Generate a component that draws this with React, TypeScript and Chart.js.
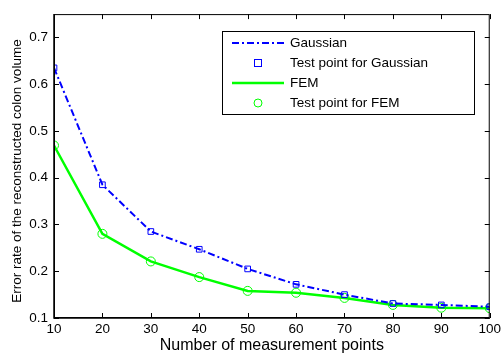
import React, { useEffect, useRef } from "react";
import { Chart, registerables } from "chart.js";

Chart.register(...registerables);

const xValues = [10, 20, 30, 40, 50, 60, 70, 80, 90, 100];
const gaussian = [0.635, 0.385, 0.285, 0.247, 0.205, 0.172, 0.15, 0.131, 0.128, 0.124];
const fem = [0.469, 0.28, 0.221, 0.1875, 0.158, 0.154, 0.143, 0.128, 0.122, 0.121];
const seriesNames = ["Gaussian", "Test point for Gaussian", "FEM", "Test point for FEM"];
const xTitle = "Number of measurement points";
const yTitle = "Error rate of the reconstructed colon volume";

const FONT = "'Liberation Sans', Arial, Helvetica, sans-serif";
const BLUE = "#0000ff";
const GREEN = "#00ff00";

const frameAndLegend = {
  id: "frameAndLegend",
  afterDraw(chart: any) {
    const { ctx, chartArea: a, scales } = chart;
    const xs = scales.x;
    const ys = scales.y;
    ctx.save();
    ctx.strokeStyle = "#000";
    ctx.lineWidth = 1;
    ctx.strokeRect(a.left + 0.5, a.top + 0.5, a.right - a.left - 1, a.bottom - a.top - 1);
    ctx.lineWidth = 1.5;
    ctx.beginPath();
    ctx.moveTo(a.left, a.top);
    ctx.lineTo(a.left, a.bottom);
    ctx.lineTo(a.right, a.bottom);
    ctx.stroke();
    ctx.lineWidth = 1;
    const tl = 5;
    ctx.beginPath();
    xs.ticks.forEach((t: any) => {
      const px = Math.round(xs.getPixelForValue(t.value)) + 0.5;
      ctx.moveTo(px, a.bottom);
      ctx.lineTo(px, a.bottom - tl);
      ctx.moveTo(px, a.top);
      ctx.lineTo(px, a.top + tl);
    });
    ys.ticks.forEach((t: any) => {
      const py = Math.round(ys.getPixelForValue(t.value)) + 0.5;
      ctx.moveTo(a.left, py);
      ctx.lineTo(a.left + tl, py);
      ctx.moveTo(a.right, py);
      ctx.lineTo(a.right - tl, py);
    });
    ctx.stroke();

    // y axis title
    ctx.save();
    ctx.translate(17, (a.top + a.bottom) / 2 + 5);
    ctx.rotate(-Math.PI / 2);
    ctx.font = "13.5px " + FONT;
    ctx.fillStyle = "#000";
    ctx.textAlign = "center";
    ctx.textBaseline = "middle";
    ctx.fillText(yTitle, 0, 0);
    ctx.restore();

    // legend box
    const bx = 222, by = 31, bw = 252, bh = 83;
    ctx.fillStyle = "#fff";
    ctx.fillRect(bx, by, bw, bh);
    ctx.lineWidth = 1;
    ctx.strokeRect(bx + 0.5, by + 0.5, bw, bh);
    const rows = [43, 63, 83, 103];
    const ds = chart.data.datasets;
    const lx1 = 232, lx2 = 284, lmid = 258, tx = 290;
    ctx.font = "13.5px " + FONT;
    ctx.textBaseline = "middle";
    ctx.textAlign = "left";
    rows.forEach((ry: number, i: number) => {
      const d = ds[i];
      if (d.showLine !== false) {
        ctx.strokeStyle = d.borderColor;
        ctx.lineWidth = d.borderWidth;
        ctx.setLineDash(d.borderDash || []);
        ctx.beginPath();
        ctx.moveTo(lx1, ry);
        ctx.lineTo(lx2, ry);
        ctx.stroke();
        ctx.setLineDash([]);
      } else {
        ctx.strokeStyle = d.pointBorderColor;
        ctx.lineWidth = 1;
        if (d.pointStyle === "rect") {
          ctx.strokeRect(lmid - 3.5, ry - 3.5, 7, 7);
        } else {
          ctx.beginPath();
          ctx.arc(lmid, ry, 4, 0, Math.PI * 2);
          ctx.stroke();
        }
      }
      ctx.fillStyle = "#000";
      ctx.fillText(d.label, tx, ry);
    });
    ctx.restore();
  },
};

export default function App() {
  const ref = useRef<HTMLCanvasElement | null>(null);
  useEffect(() => {
    document.body.style.margin = "0";
    const canvas = ref.current!;
    const chart = new Chart(canvas, {
      type: "line",
      data: {
        datasets: [
          {
            label: seriesNames[0],
            data: xValues.map((x, i) => ({ x, y: gaussian[i] })),
            borderColor: BLUE,
            borderWidth: 2,
            borderDash: [7, 3, 2, 3],
            pointRadius: 0,
            fill: false,
          },
          {
            label: seriesNames[1],
            data: xValues.map((x, i) => ({ x, y: gaussian[i] })),
            showLine: false,
            pointStyle: "rect",
            pointRadius: 4,
            pointBorderColor: BLUE,
            pointBackgroundColor: "rgba(0,0,0,0)",
            pointBorderWidth: 1,
          },
          {
            label: seriesNames[2],
            data: xValues.map((x, i) => ({ x, y: fem[i] })),
            borderColor: GREEN,
            borderWidth: 2.5,
            pointRadius: 0,
            fill: false,
          },
          {
            label: seriesNames[3],
            data: xValues.map((x, i) => ({ x, y: fem[i] })),
            showLine: false,
            pointStyle: "circle",
            pointRadius: 4.5,
            pointBorderColor: GREEN,
            pointBackgroundColor: "rgba(0,0,0,0)",
            pointBorderWidth: 1,
          },
        ] as any,
      },
      options: {
        animation: false,
        responsive: false,
        maintainAspectRatio: false,
        layout: { padding: { top: 5, right: 11, left: 0, bottom: 0 } },
        plugins: { legend: { display: false }, tooltip: { enabled: false } },
        scales: {
          x: {
            type: "linear",
            min: 10,
            max: 100,
            grid: { display: false, drawTicks: false, tickLength: 0 },
            border: { display: false },
            ticks: {
              stepSize: 10,
              color: "#000",
              font: { family: FONT, size: 13.5 },
              padding: 3,
              maxRotation: 0,
            },
            title: {
              display: true,
              text: xTitle,
              color: "#000",
              font: { family: FONT, size: 16 },
              padding: { top: 0, bottom: 1 },
            },
            afterFit(s: any) {
              s.height = 38;
            },
          },
          y: {
            type: "linear",
            min: 0.1,
            max: 0.75,
            grid: { display: false, drawTicks: false, tickLength: 0 },
            border: { display: false },
            ticks: {
              stepSize: 0.1,
              includeBounds: false,
              color: "#000",
              font: { family: FONT, size: 13.5 },
              padding: 6,
              callback: (v: any) => Number(v).toFixed(1),
            },
            title: { display: false },
            afterFit(s: any) {
              s.width = 54;
            },
          },
        },
      },
      plugins: [frameAndLegend],
    });
    return () => chart.destroy();
  }, []);
  return <canvas ref={ref} width={504} height={356} style={{ display: "block" }} />;
}
